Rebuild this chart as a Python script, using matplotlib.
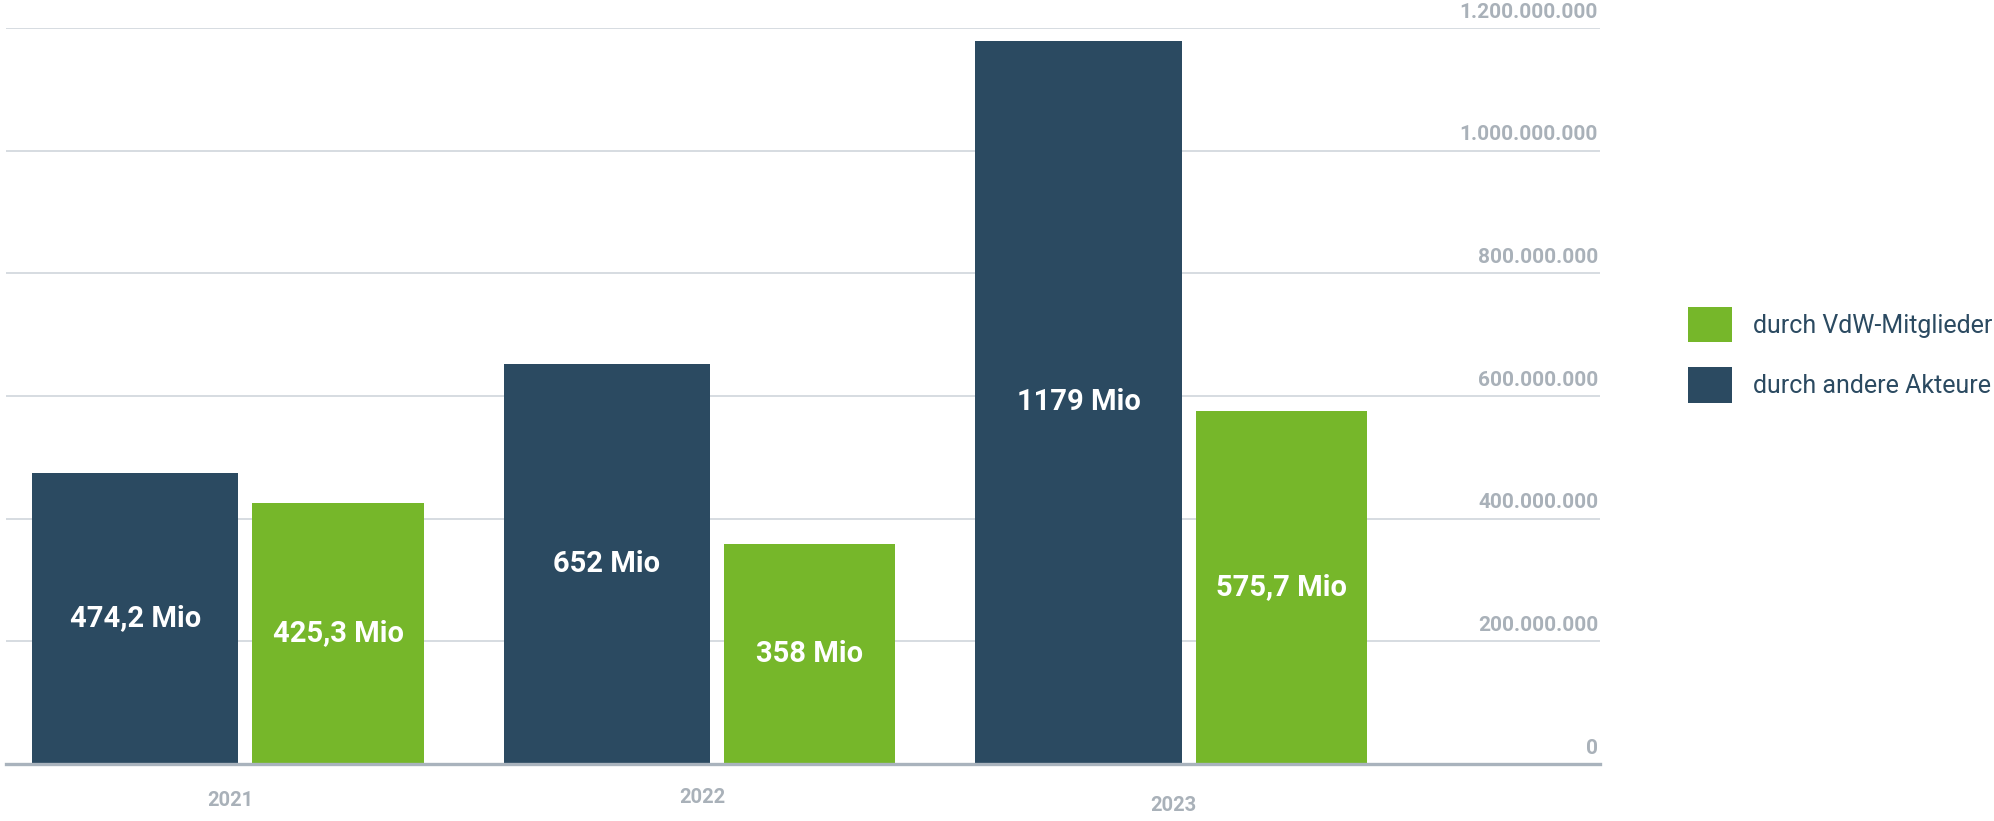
import matplotlib
matplotlib.use("Agg")
import matplotlib.pyplot as plt
from matplotlib.patches import Patch
from matplotlib.transforms import blended_transform_factory
import numpy as np

# ---- data -------------------------------------------------------------
years = ["2021", "2022", "2023"]
andere_mio = [474.2, 652.0, 1179.0]        # durch andere Akteure (Mio)
vdw_mio = [425.3, 358.0, 575.7]            # durch VdW-Mitglieder (Mio)
andere_labels = ["474,2 Mio", "652 Mio", "1179 Mio"]
vdw_labels = ["425,3 Mio", "358 Mio", "575,7 Mio"]
y_ticks = [0, 200_000_000, 400_000_000, 600_000_000,
           800_000_000, 1_000_000_000, 1_200_000_000]
y_tick_labels = ["0", "200.000.000", "400.000.000", "600.000.000",
                 "800.000.000", "1.000.000.000", "1.200.000.000"]
legend_labels = ["durch VdW-Mitglieder", "durch andere Akteure"]

# ---- style ------------------------------------------------------------
NAVY = "#2b4a61"
GREEN = "#76b72a"
TICK_GREY = "#a9b1b9"
GRID_GREY = "#d3d9de"
BASE_GREY = "#a9b3bd"
FONT = ["Roboto", "DejaVu Sans"]

plt.rcParams["font.family"] = FONT

fig = plt.figure(figsize=(19.94, 8.21), dpi=100)
ax = fig.add_axes([0.003, 0.0694, 0.7995, 0.8965])

x = np.arange(len(years))
w_navy, w_green, gap = 0.437, 0.363, 0.030
off_navy = -0.196
off_green = off_navy + w_navy / 2 + gap + w_green / 2

andere = np.array(andere_mio) * 1e6
vdw = np.array(vdw_mio) * 1e6

bars_a = ax.bar(x + off_navy, andere, width=w_navy, color=NAVY, zorder=3)
bars_v = ax.bar(x + off_green, vdw, width=w_green, color=GREEN, zorder=3)

# values written in the middle of each bar
for bars, vals, labels in ((bars_a, andere, andere_labels),
                           (bars_v, vdw, vdw_labels)):
    for b, v, lab in zip(bars, vals, labels):
        ax.text(b.get_x() + b.get_width() / 2, v / 2, lab,
                ha="center", va="center", color="white",
                fontsize=21, fontweight="bold", zorder=4)

ax.set_xlim(-0.47, 2.91)
ax.set_ylim(0, 1_200_000_000)

# horizontal grid
ax.set_yticks(y_ticks)
ax.yaxis.grid(True, color=GRID_GREY, linewidth=1.3, zorder=0)
ax.tick_params(axis="both", length=0, labelleft=False, labelbottom=False)
ax.set_xticks([])
for s in ("top", "left", "right"):
    ax.spines[s].set_visible(False)
ax.spines["bottom"].set_color(BASE_GREY)
ax.spines["bottom"].set_linewidth(2.4)
ax.spines["bottom"].set_zorder(5)

# value scale labels sit above their gridline at the right end
for val, lab in zip(y_ticks, y_tick_labels):
    ax.annotate(lab, xy=(1.0, val), xycoords=("axes fraction", "data"),
                xytext=(-1.5, 11.5), textcoords="offset points",
                ha="right", va="center", color=TICK_GREY,
                fontsize=15, fontweight="bold")

# year labels below the baseline
year_drop = [26.6, 23.8, 30.2]
for xi, yr, d in zip(x, years, year_drop):
    ax.annotate(yr, xy=(xi, 0), xycoords=("data", "axes fraction"),
                xytext=(2, -d), textcoords="offset points",
                ha="center", va="center", color=TICK_GREY,
                fontsize=14.5, fontweight="bold")

handles = [Patch(facecolor=GREEN, edgecolor="none"),
           Patch(facecolor=NAVY, edgecolor="none")]
leg = fig.legend(handles, legend_labels, loc="upper left",
                 bbox_to_anchor=(1688 / 1994, 1 - 307 / 821),
                 frameon=False, fontsize=18, handlelength=1.75,
                 handleheight=1.8, handletextpad=0.85, labelspacing=1.0,
                 borderpad=0, borderaxespad=0)
for t in leg.get_texts():
    t.set_color(NAVY)

fig.savefig("out.png", dpi=100, facecolor="white")
